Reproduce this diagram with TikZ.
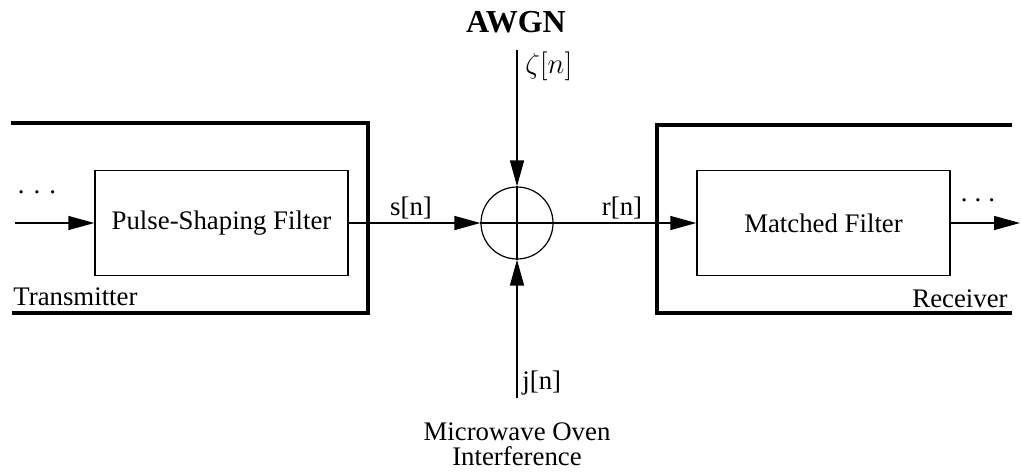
\documentclass[tikz,border=0pt]{standalone}
\usepackage{fontspec}
\setmainfont{Liberation Serif}
\usepackage{tikz}
\usetikzlibrary{arrows.meta, positioning}

\begin{document}
\begin{tikzpicture}[
  x=0.5pt, y=-0.5pt,
  blk/.style={rectangle, draw=black, line width=0.7pt, minimum width=126.5pt,
              minimum height=52.5pt, align=center, font=\fontsize{13.4}{14}\selectfont},
  summer/.style={circle, draw=black, line width=0.6pt, minimum size=36pt, inner sep=0pt},
  arr/.style={-{Triangle[length=13pt, width=7pt]}, line width=0.7pt},
  frame/.style={line width=1.8pt},
  lbl/.style={font=\fontsize{13.4}{12.5}\selectfont, inner sep=0pt}
]
\useasboundingbox (0,0) rectangle (1021,472);

% outer transmitter / receiver frames
\draw[frame] (11,123) -- (368,123) -- (368,313) -- (12,313);
\draw[frame] (1012,125) -- (657,125) -- (657,313) -- (1012,313);
\node[lbl, anchor=base west] (tx) at (13,305) {Transmitter};
\node[lbl, anchor=base east] (rx) at (1008,307) {Receiver};

\node[blk] (psf) at (221.5,223) {Pulse-Shaping Filter};
\node[blk] (mf) at (823.5,223) {Matched Filter};
\node[summer] (sum) at (517,223) {};

\coordinate (in) at (15,223);
\coordinate (out) at (1020,223);
\coordinate (noise) at (517,50);
\coordinate (jam) at (517,398);

\draw[arr] (in) -- (psf.west);
\draw[arr] (psf.east) -- (sum.west);
\draw[arr] (sum.east) -- (mf.west);
\draw[arr] (mf.east) -- (out);
\draw[arr] (noise) -- (sum.north);
\draw[arr] (jam) -- (sum.south);
\draw[line width=0.7pt] (sum.west) -- (sum.east);
\draw[line width=0.7pt] (sum.north) -- (sum.south);

\node[lbl] (dl) at (37,192) {.\hspace{4.5pt}.\hspace{4.5pt}.};
\node[lbl] (dr) at (978,200) {.\hspace{3.5pt}.\hspace{3.5pt}.};
\node[lbl] (s) at (411,208) {s[n]};
\node[lbl] (r) at (622,208) {r[n]};
\node[lbl, anchor=west] (zeta) at (525,66) {$\zeta[n]$};
\node[lbl, anchor=west] (j) at (522,383) {j[n]};
\node[lbl, anchor=base, font=\fontsize{16}{17}\selectfont\bfseries] (awgn) at (516,32) {AWGN};
\node[lbl, anchor=north, align=center] (mw) at (517,422) {Microwave Oven\\Interference};
\end{tikzpicture}
\end{document}
